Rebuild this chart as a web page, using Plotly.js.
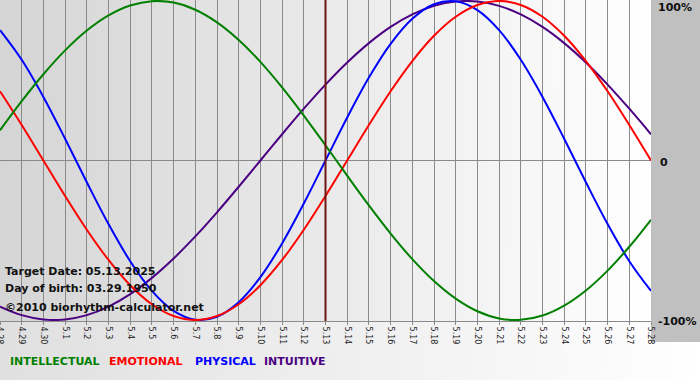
<!DOCTYPE html>
<html>
<head>
<meta charset="utf-8">
<script src="https://cdn.plot.ly/plotly-3.0.1.min.js"></script>
<style>html,body{margin:0;padding:0;background:#fff;}#chart{width:700px;height:380px;}</style>
</head>
<body>
<div id="chart"></div>
<script>
// ---- data ----
const dates = ["4.28","4.29","4.30","5.1","5.2","5.3","5.4","5.5","5.6","5.7","5.8","5.9","5.10",
  "5.11","5.12","5.13","5.14","5.15","5.16","5.17","5.18","5.19","5.20","5.21","5.22","5.23",
  "5.24","5.25","5.26","5.27","5.28"];
const targetDate = "5.13";
const intellectual = [0.1893,0.3717,0.5406,0.6901,0.8146,0.9096,0.9718,0.9989,0.9898,0.9450,0.8660,
  0.7557,0.6182,0.4582,0.2817,0.0951,-0.0951,-0.2817,-0.4582,-0.6182,-0.7557,-0.8660,-0.9450,
  -0.9898,-0.9989,-0.9718,-0.9096,-0.8146,-0.6901,-0.5406,-0.3717];
const emotional = [0.4339,0.2225,0,-0.2225,-0.4339,-0.6235,-0.7818,-0.9010,-0.9749,-1,-0.9749,
  -0.9010,-0.7818,-0.6235,-0.4339,-0.2225,0,0.2225,0.4339,0.6235,0.7818,0.9010,0.9749,1,0.9749,
  0.9010,0.7818,0.6235,0.4339,0.2225,0];
const physical = [0.8170,0.6311,0.3984,0.1362,-0.1362,-0.3984,-0.6311,-0.8170,-0.9423,-0.9977,
  -0.9791,-0.8879,-0.7308,-0.5196,-0.2698,0,0.2698,0.5196,0.7308,0.8879,0.9791,0.9977,0.9423,
  0.8170,0.6311,0.3984,0.1362,-0.1362,-0.3984,-0.6311,-0.8170];
const intuitive = [-0.9158,-0.9694,-0.9966,-0.9966,-0.9694,-0.9158,-0.8372,-0.7357,-0.6142,-0.4759,
  -0.3247,-0.1646,0,0.1646,0.3247,0.4759,0.6142,0.7357,0.8372,0.9158,0.9694,0.9966,0.9966,0.9694,
  0.9158,0.8372,0.7357,0.6142,0.4759,0.3247,0.1646];
const yTickLabels = ["100%","0","-100%"];
const yTickVals = [1,0,-1];
const legendNames = ["INTELLECTUAL","EMOTIONAL","PHYSICAL","INTUITIVE"];
const infoLines = ["Target Date: 05.13.2025","Day of birth: 03.29.1950","©2010 biorhythm-calculator.net"];

// ---- styling ----
const colors = {INTELLECTUAL:"#008000",EMOTIONAL:"#ff0000",PHYSICAL:"#0000ff",INTUITIVE:"#4b0082"};
const FONT = "DejaVu Sans, Verdana, sans-serif";
const W = 700, H = 380, ML = 0, MR = 49, MT = 0, MB = 59;
const PW = W - ML - MR, PH = H - MT - MB;
const px = v => v / PW;               // pixel x -> paper x
const py = v => (PH - v) / PH;        // pixel y -> paper y
const CLIP = 344;

function grad(c0, c1) {
  const c = document.createElement('canvas');
  c.width = 256; c.height = 2;
  const g = c.getContext('2d');
  const lg = g.createLinearGradient(0, 0, 256, 0);
  lg.addColorStop(0, c0); lg.addColorStop(1, c1);
  g.fillStyle = lg; g.fillRect(0, 0, 256, 2);
  return c.toDataURL('image/png');
}
const plotGrad = grad('#d5d5d5', '#ffffff');
const bandGrad = grad('#e0e0e0', '#ffffff');

function tr(name, ys) {
  return {x: dates, y: ys, type: 'scatter', mode: 'lines', name: name,
    line: {color: colors[name], width: 2, shape: 'spline', smoothing: 1},
    hoverinfo: 'skip', showlegend: false};
}
const data = [tr("INTUITIVE", intuitive), tr("PHYSICAL", physical),
              tr("EMOTIONAL", emotional), tr("INTELLECTUAL", intellectual)];

const annotations = [];
const infoY = [271, 288, 307];
infoLines.forEach((t, i) => annotations.push({
  text: t, xref: 'paper', yref: 'paper', x: px(3), y: py(infoY[i]),
  xanchor: 'left', yanchor: 'middle', showarrow: false,
  font: {family: FONT, size: 11, color: '#111', weight: 'bold'}
}));
const ySpecPx = [7, null, 322];
yTickLabels.forEach((t, i) => annotations.push({
  text: '<b>' + t + '</b>', xref: 'paper', yref: ySpecPx[i] === null ? 'y' : 'paper',
  x: 1, xshift: (t === '0' ? 7 : 5),
  y: ySpecPx[i] === null ? yTickVals[i] : py(ySpecPx[i]), yshift: (t === '0' ? -2 : 0),
  xanchor: 'left', yanchor: 'middle', showarrow: false,
  font: {family: FONT, size: 11, color: '#111'}
}));
const legX = [8, 107, 193, 262];
legendNames.forEach((n, i) => annotations.push({
  text: '<b>' + n + '</b>', xref: 'paper', yref: 'paper', x: px(legX[i]), y: py(361),
  xanchor: 'left', yanchor: 'middle', showarrow: false,
  font: {family: FONT, size: 11, color: colors[n]}
}));

const targetIdx = dates.indexOf(targetDate);
const layout = {
  width: W, height: H,
  margin: {l: ML, r: MR, t: MT, b: MB, pad: 0},
  paper_bgcolor: '#ffffff', plot_bgcolor: 'rgba(0,0,0,0)',
  showlegend: false,
  xaxis: {type: 'category', range: [0, dates.length - 1], showgrid: true, gridcolor: '#8a8a8a', gridwidth: 1,
    showline: true, mirror: true, linecolor: '#8a8a8a', linewidth: 1,
    ticks: 'outside', ticklen: 3, tickcolor: '#8a8a8a', tickangle: 90,
    tickfont: {family: FONT, size: 8, color: '#222'}, zeroline: false, fixedrange: true},
  yaxis: {range: [-1.006, 1.006], showgrid: false, zeroline: true, zerolinecolor: '#8a8a8a',
    zerolinewidth: 1, showticklabels: false, ticks: '', fixedrange: true},
  images: [
    {source: plotGrad, xref: 'paper', yref: 'paper', x: 0, y: 1, sizex: 1, sizey: 1,
      sizing: 'stretch', xanchor: 'left', yanchor: 'top', layer: 'below'},
    {source: bandGrad, xref: 'paper', yref: 'paper', x: 0, y: 0, sizex: W / PW, sizey: MB / PH,
      sizing: 'stretch', xanchor: 'left', yanchor: 'top', layer: 'below'},
    {source: bandGrad, xref: 'paper', yref: 'paper', x: 0, y: py(CLIP), sizex: W / PW, sizey: (H - CLIP) / PH + 0.01,
      sizing: 'stretch', xanchor: 'left', yanchor: 'top', layer: 'above'}
  ],
  shapes: [
    {type: 'rect', xref: 'paper', yref: 'paper', x0: 1, x1: W / PW + 0.01, y0: py(CLIP - 2), y1: 1.01,
      fillcolor: '#c0c0c0', line: {width: 0}, layer: 'below'},
    {type: 'line', xref: 'x', yref: 'paper', x0: targetIdx, x1: targetIdx, y0: 0, y1: 1,
      line: {color: '#701515', width: 2}, layer: 'above'}
  ],
  annotations: annotations
};
Plotly.newPlot('chart', data, layout, {staticPlot: true, displayModeBar: false});
</script>
</body>
</html>
